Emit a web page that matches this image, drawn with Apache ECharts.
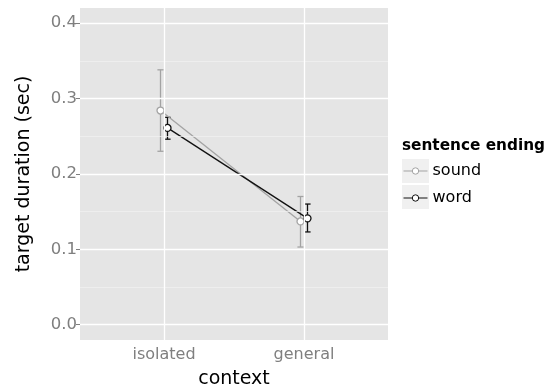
<!DOCTYPE html>
<html>
<head>
<meta charset="utf-8">
<script src="https://cdn.jsdelivr.net/npm/echarts@6/dist/echarts.min.js"></script>
<style>html,body{margin:0;padding:0;background:#fff;}#c{width:554px;height:389px;}</style>
</head>
<body>
<div id="c"></div>
<script>
const categories = ['isolated', 'general'];
const seriesNames = ['sound', 'word'];
const soundMean = [0.284, 0.137];
const soundLow  = [0.230, 0.103];
const soundHigh = [0.338, 0.170];
const wordMean  = [0.261, 0.141];
const wordLow   = [0.246, 0.123];
const wordHigh  = [0.275, 0.160];
const yTicks = [0, 0.1, 0.2, 0.3, 0.4];
const yMinor = [0.05, 0.15, 0.25, 0.35];

const dodge = 0.025;
const capHalf = 0.022;
const colSound = '#a3a3a3';
const colWord = '#111111';

function pts(means, off) { return means.map((v, i) => [i + 1 + off, v]); }
function bars(lo, hi, off) { return lo.map((v, i) => [i + 1 + off, v, hi[i]]); }

function errRender(color) {
  return function (params, api) {
    const x = api.value(0), lo = api.value(1), hi = api.value(2);
    const a = api.coord([x, lo]), b = api.coord([x, hi]);
    const l = api.coord([x - capHalf, lo])[0], r = api.coord([x + capHalf, lo])[0];
    const st = { stroke: color, lineWidth: 1.3 };
    return { type: 'group', children: [
      { type: 'line', shape: { x1: a[0], y1: a[1], x2: b[0], y2: b[1] }, style: st },
      { type: 'line', shape: { x1: l, y1: a[1], x2: r, y2: a[1] }, style: st },
      { type: 'line', shape: { x1: l, y1: b[1], x2: r, y2: b[1] }, style: st }
    ]};
  };
}

const gridLines = [];
yTicks.forEach(v => gridLines.push({ yAxis: v, lineStyle: { color: '#ffffff', width: 1.3, type: 'solid' } }));
yMinor.forEach(v => gridLines.push({ yAxis: v, lineStyle: { color: '#f2f2f2', width: 0.7, type: 'solid' } }));
categories.forEach((c, i) => gridLines.push({ xAxis: i + 1, lineStyle: { color: '#ffffff', width: 1.3, type: 'solid' } }));

const chart = echarts.init(document.getElementById('c'), null, { renderer: 'canvas' });
chart.setOption({
  animation: false,
  backgroundColor: '#ffffff',
  textStyle: { fontFamily: 'DejaVu Sans' },
  grid: { left: 80, top: 8, width: 308, height: 332, show: true, backgroundColor: '#e5e5e5', borderWidth: 0,
          containLabel: false, outerBoundsMode: 'none' },
  xAxis: {
    type: 'value', min: 0.4, max: 2.6,
    name: 'context', nameLocation: 'middle', nameGap: 30,
    nameTextStyle: { fontSize: 19, color: '#000', fontFamily: 'DejaVu Sans' },
    axisLine: { show: false },
    axisTick: { show: true, length: 4, lineStyle: { color: '#7f7f7f' }, customValues: categories.map((c, i) => i + 1) },
    axisLabel: { customValues: categories.map((c, i) => i + 1), formatter: v => categories[Math.round(v) - 1] || '', fontSize: 16, color: '#7f7f7f', margin: 7, fontFamily: 'DejaVu Sans' },
    splitLine: { show: false }
  },
  yAxis: {
    type: 'value', min: -0.0203, max: 0.42,
    name: 'target duration (sec)', nameLocation: 'middle', nameGap: 46, nameRotate: 90,
    nameTextStyle: { fontSize: 19, color: '#000', fontFamily: 'DejaVu Sans' },
    axisLine: { show: false },
    axisTick: { show: true, length: 4, lineStyle: { color: '#7f7f7f' }, customValues: yTicks },
    axisLabel: { customValues: yTicks, formatter: v => v.toFixed(1), fontSize: 16.5, color: '#7f7f7f', margin: 3, fontFamily: 'DejaVu Sans' },
    splitLine: { show: false }
  },
  legend: {
    data: seriesNames,
    orient: 'vertical', left: 403, top: 161, padding: 0,
    itemWidth: 24, itemHeight: 8, itemGap: 7,
    textStyle: { fontSize: 16, color: '#000', fontFamily: 'DejaVu Sans', lineHeight: 20 },
    lineStyle: { width: 1 },
    itemStyle: { borderWidth: 1 }
  },
  graphic: [
    { type: 'rect', left: 402, top: 159, shape: { width: 27, height: 24 }, style: { fill: '#f0f0f0' }, z: -1 },
    { type: 'rect', left: 402, top: 185, shape: { width: 27, height: 24 }, style: { fill: '#f0f0f0' }, z: -1 },
    { type: 'text', left: 402, top: 139, style: { text: 'sentence ending', fontSize: 15.3, fontWeight: 'bold', fill: '#000', fontFamily: 'DejaVu Sans' } }
  ],
  series: [
    { type: 'scatter', data: [], silent: true, z: 0,
      markLine: { silent: true, symbol: 'none', label: { show: false }, animation: false, data: gridLines } },
    { type: 'custom', name: 'soundErr', renderItem: errRender(colSound), data: bars(soundLow, soundHigh, -dodge), z: 2, silent: true },
    { type: 'custom', name: 'wordErr', renderItem: errRender(colWord), data: bars(wordLow, wordHigh, dodge), z: 2, silent: true },
    { type: 'line', name: 'sound', data: pts(soundMean, -dodge), z: 3,
      lineStyle: { color: colSound, width: 1.3 }, itemStyle: { color: '#ffffff', borderColor: colSound, borderWidth: 1.3 },
      symbol: 'circle', symbolSize: 7, showSymbol: true },
    { type: 'line', name: 'word', data: pts(wordMean, dodge), z: 4,
      lineStyle: { color: colWord, width: 1.3 }, itemStyle: { color: '#ffffff', borderColor: colWord, borderWidth: 1.3 },
      symbol: 'circle', symbolSize: 7, showSymbol: true }
  ]
});
</script>
</body>
</html>
